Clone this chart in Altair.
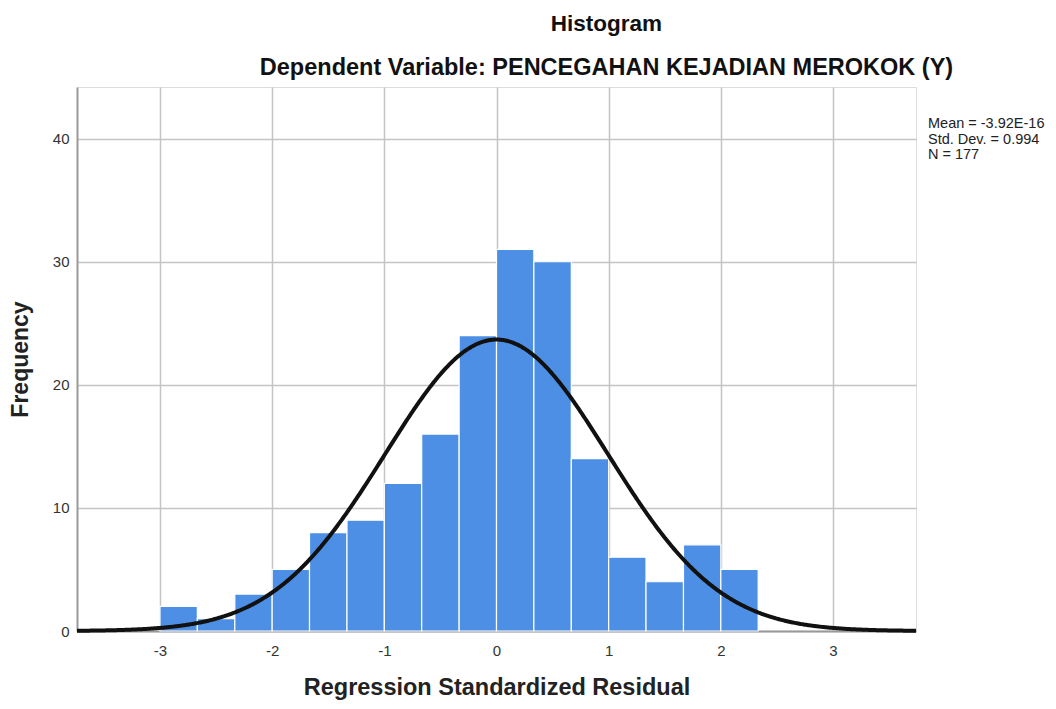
import altair as alt
import pandas as pd

# Histogram bins (lower / upper edges) and frequencies
bin_lo = [-3.0, -2.667, -2.333, -2.0, -1.667, -1.333, -1.0, -0.667, -0.333, 0.0, 0.333, 0.667, 1.0, 1.333, 1.667, 2.0]
bin_hi = [-2.667, -2.333, -2.0, -1.667, -1.333, -1.0, -0.667, -0.333, 0.0, 0.333, 0.667, 1.0, 1.333, 1.667, 2.0, 2.333]
counts = [2, 1, 3, 5, 8, 9, 12, 16, 24, 31, 30, 14, 6, 4, 7, 5]

# Fitted normal curve statistics
mean = -3.92e-16
std = 0.994
n = 177
bin_width = 1 / 3

stats_lines = ["Mean = -3.92E-16", "Std. Dev. = 0.994", "N = 177"]
x_ticks = [-3, -2, -1, 0, 1, 2, 3]
y_ticks = [0, 10, 20, 30, 40]

FONT = "Liberation Sans"
X_DOMAIN = [-3.74, 3.74]
Y_DOMAIN = [0, 44.2]

bars_df = pd.DataFrame({"lo": bin_lo, "hi": bin_hi, "count": counts})

xscale = alt.Scale(domain=X_DOMAIN, nice=False, zero=False)
yscale = alt.Scale(domain=Y_DOMAIN, nice=False)

x_axis = alt.Axis(
    values=x_ticks, title="Regression Standardized Residual", grid=True,
    gridColor="#c4c4c4", gridWidth=1.5, domainColor="#999999", domainWidth=2,
    ticks=False, labelFont=FONT, labelFontSize=15, labelColor="#333333",
    labelPadding=12, labelExpr="toString(datum.value)",
    titleFont=FONT, titleFontSize=23.5, titleFontWeight="bold",
    titleColor="#222222", titlePadding=17, labelFlush=False,
)
y_axis = alt.Axis(
    values=y_ticks, title="Frequency", grid=True, gridColor="#c4c4c4",
    gridWidth=1.5, domainColor="#999999", domainWidth=2, ticks=False,
    labelFont=FONT, labelFontSize=15, labelColor="#333333", labelPadding=8,
    titleFont=FONT, titleFontSize=23, titleFontWeight="bold",
    titleColor="#222222", titlePadding=20,
)

bars = alt.Chart(bars_df).mark_rect(
    color="#4d8fe4", stroke="white", strokeWidth=1.2
).encode(
    x=alt.X("lo:Q", scale=xscale, axis=x_axis),
    x2="hi:Q",
    y=alt.Y("count:Q", scale=yscale, axis=y_axis),
    y2=alt.datum(0),
)

curve = alt.Chart(alt.sequence(start=X_DOMAIN[0], stop=X_DOMAIN[1] + 0.005, step=0.01, as_="x")).transform_calculate(
    y=f"{n} * {bin_width} * exp(-0.5 * pow((datum.x - ({mean})) / {std}, 2)) / ({std} * sqrt(2 * PI))"
).mark_line(color="#111111", strokeWidth=4).encode(
    x=alt.X("x:Q", scale=xscale),
    y=alt.Y("y:Q", scale=yscale),
)

stats = alt.Chart(pd.DataFrame({"t": ["\n".join(stats_lines)]})).mark_text(
    align="left", baseline="top", lineBreak="\n", lineHeight=15.5,
    font=FONT, fontSize=14.5, color="#222222",
).encode(text="t:N", x=alt.value(851), y=alt.value(30))

chart = alt.layer(bars, curve, stats).properties(
    width=839,
    height=544,
    padding={"left": 69, "top": 79, "right": 132, "bottom": 70},
    autosize=alt.AutoSizeParams(type="none"),
    title=alt.TitleParams(
        text="Histogram",
        subtitle="Dependent Variable: PENCEGAHAN KEJADIAN MEROKOK (Y)",
        anchor="middle", dx=110, font=FONT, fontSize=22.5, fontWeight="bold",
        color="#111111", subtitleFont=FONT, subtitleFontSize=23.5,
        subtitleFontWeight="bold", subtitleColor="#111111",
        subtitlePadding=20, offset=8,
    ),
).configure_view(stroke=None).configure(background="white")

chart.save("out.html", embed_options={"renderer": "svg", "actions": False})
